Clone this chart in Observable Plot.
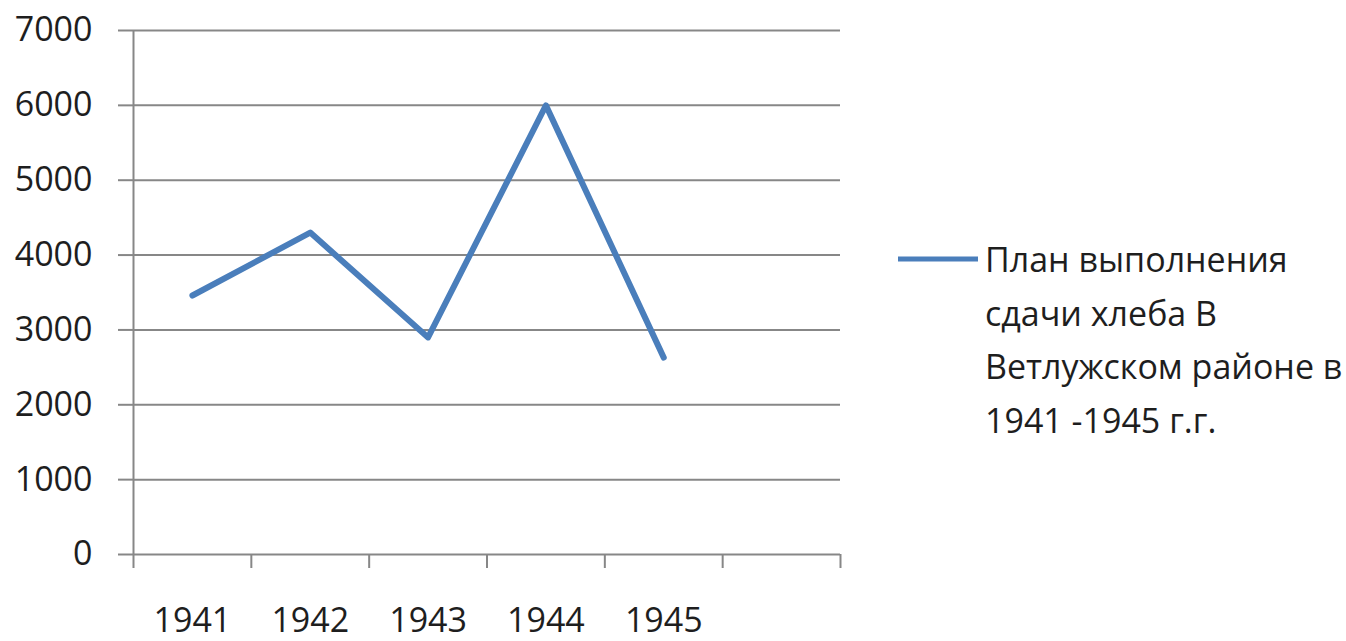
<!DOCTYPE html>
<html>
<head>
<meta charset="utf-8">
<script src="https://cdn.jsdelivr.net/npm/d3@7"></script>
<script src="https://cdn.jsdelivr.net/npm/@observablehq/plot@0.6"></script>
<style>
  html, body { margin: 0; padding: 0; background: #fff; }
  #wrap { position: relative; width: 1346px; height: 641px; overflow: hidden; }
  #legend { position: absolute; left: 0; top: 0; }
</style>
</head>
<body>
<div id="wrap"></div>
<script>
// ---- data ----
const years = ["1941", "1942", "1943", "1944", "1945"];
const values = [3460, 4300, 2900, 6000, 2630];
const yTicks = [0, 1000, 2000, 3000, 4000, 5000, 6000, 7000];
const xBoundaries = [0, 1, 2, 3, 4, 5, 6];
const seriesName = "План выполнения сдачи хлеба В Ветлужском районе в 1941 -1945 г.г.";
const legendLines = ["План выполнения", "сдачи хлеба В", "Ветлужском районе в", "1941 -1945 г.г."];

const lineColor = "#4a7ebb";
const gridColor = "#878787";
const textColor = "#1e1e1e";
const font = "'Open Sans', sans-serif";

const rows = years.map((y, i) => ({year: y, idx: i + 0.5, value: values[i]}));

const chart = Plot.plot({
  width: 1346,
  height: 641,
  marginLeft: 133,
  marginRight: 506,
  marginTop: 30,
  marginBottom: 87,
  style: {fontFamily: font, fontSize: "34px", color: textColor, background: "#fff"},
  x: {domain: [0, 6], axis: null},
  y: {domain: [0, 7000], axis: null},
  marks: [
    Plot.ruleY(yTicks, {x1: 0, x2: 6, stroke: gridColor, strokeWidth: 2}),
    Plot.axisY({ticks: yTicks, tickSize: 15, tickPadding: 26, stroke: gridColor, strokeWidth: 2,
                label: null, tickFormat: d => String(d), fontSize: 34, fill: textColor}),
    Plot.ruleX([0], {y1: 0, y2: 7000, stroke: gridColor, strokeWidth: 2}),
    Plot.axisX({ticks: xBoundaries, tickSize: 14, tickFormat: () => "", stroke: gridColor, strokeWidth: 2, label: null}),
    Plot.text(rows, {x: "idx", y: 0, text: "year", dy: 77, lineAnchor: "bottom", fontSize: 34, fill: textColor}),
    Plot.line(rows, {x: "idx", y: "value", stroke: lineColor, strokeWidth: 6,
                     strokeLinejoin: "round", strokeLinecap: "round", title: () => seriesName})
  ]
});
document.getElementById("wrap").appendChild(chart);

// legend (right side)
const ns = "http://www.w3.org/2000/svg";
const leg = document.createElementNS(ns, "svg");
leg.setAttribute("id", "legend");
leg.setAttribute("width", 1346);
leg.setAttribute("height", 641);
leg.style.pointerEvents = "none";
const sw = document.createElementNS(ns, "line");
sw.setAttribute("x1", 898); sw.setAttribute("x2", 978);
sw.setAttribute("y1", 259); sw.setAttribute("y2", 259);
sw.setAttribute("stroke", lineColor); sw.setAttribute("stroke-width", 5);
leg.appendChild(sw);
legendLines.forEach((t, i) => {
  const tx = document.createElementNS(ns, "text");
  tx.setAttribute("x", 985);
  tx.setAttribute("y", 272 + i * 53.7);
  tx.setAttribute("font-family", font);
  tx.setAttribute("font-size", 34);
  tx.setAttribute("fill", textColor);
  tx.textContent = t;
  leg.appendChild(tx);
});
document.getElementById("wrap").appendChild(leg);
</script>
</body>
</html>
